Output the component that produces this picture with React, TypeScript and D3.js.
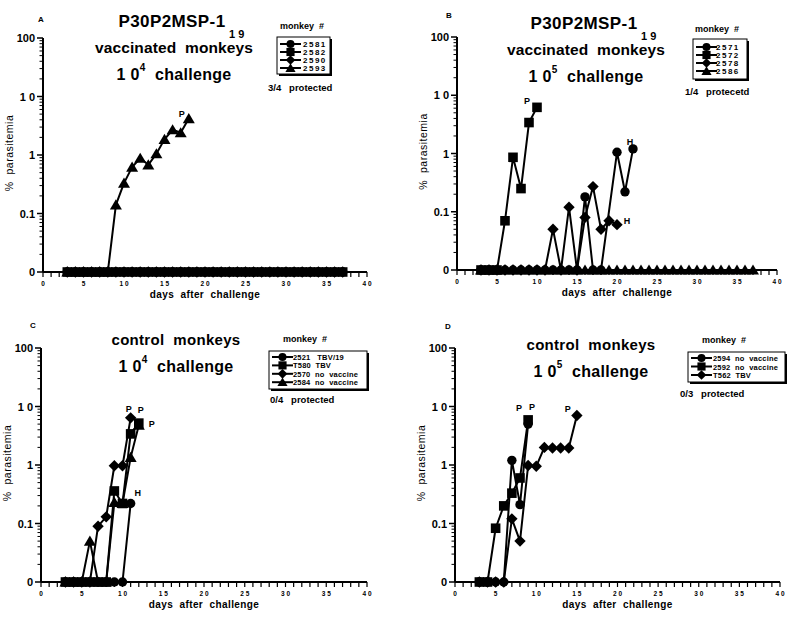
import React from 'react';
import * as d3 from 'd3';

type Pt = [number, number];

// ---------- Panel A: P30P2MSP-1 19 vaccinated, 10^4 challenge ----------
const a2581: Pt[] = [[3,0],[4,0],[5,0],[6,0],[7,0],[8,0],[9,0],[10,0],[11,0],[12,0],[13,0],[14,0],[15,0],[16,0],[17,0],[18,0],[19,0],[20,0],[21,0],[22,0],[23,0],[24,0],[25,0],[26,0],[27,0],[28,0],[29,0],[30,0],[31,0],[32,0],[33,0],[34,0],[35,0],[36,0],[37,0]];
const a2582: Pt[] = [[3,0],[4,0],[5,0],[6,0],[7,0],[8,0],[9,0],[10,0],[11,0],[12,0],[13,0],[14,0],[15,0],[16,0],[17,0],[18,0],[19,0],[20,0],[21,0],[22,0],[23,0],[24,0],[25,0],[26,0],[27,0],[28,0],[29,0],[30,0],[31,0],[32,0],[33,0],[34,0],[35,0],[36,0],[37,0]];
const a2590: Pt[] = [[3,0],[4,0],[5,0],[6,0],[7,0],[8,0],[9,0],[10,0],[11,0],[12,0],[13,0],[14,0],[15,0],[16,0],[17,0],[18,0],[19,0],[20,0],[21,0],[22,0],[23,0],[24,0],[25,0],[26,0],[27,0],[28,0],[29,0],[30,0],[31,0],[32,0],[33,0],[34,0],[35,0],[36,0],[37,0]];
const a2593: Pt[] = [[3,0],[4,0],[5,0],[6,0],[7,0],[8,0],[9,0.14],[10,0.33],[11,0.62],[12,0.88],[13,0.68],[14,1.05],[15,1.85],[16,2.7],[17,2.4],[18,4.2]];

// ---------- Panel B: P30P2MSP-1 19 vaccinated, 10^5 challenge ----------
const b2571: Pt[] = [[3,0],[4,0],[5,0],[6,0],[7,0],[8,0],[9,0],[10,0],[11,0],[12,0],[13,0],[14,0],[15,0],[16,0.18],[17,0],[18,0],[20,1.05],[21,0.22],[22,1.2]];
const b2572: Pt[] = [[3,0],[4,0],[5,0],[6,0.07],[7,0.86],[8,0.25],[9,3.4],[10,6.2]];
const b2578: Pt[] = [[3,0],[4,0],[5,0],[6,0],[7,0],[8,0],[9,0],[10,0],[11,0],[12,0.05],[13,0],[14,0.12],[15,0],[16,0.08],[17,0.27],[18,0.05],[19,0.07],[20,0.06]];
const b2586: Pt[] = [[3,0],[4,0],[5,0],[6,0],[7,0],[8,0],[9,0],[10,0],[11,0],[12,0],[13,0],[14,0],[15,0],[16,0],[17,0],[18,0],[19,0],[20,0],[21,0],[22,0],[23,0],[24,0],[25,0],[26,0],[27,0],[28,0],[29,0],[30,0],[31,0],[32,0],[33,0],[34,0],[35,0],[36,0],[37,0]];

// ---------- Panel C: control monkeys, 10^4 challenge ----------
const c2521: Pt[] = [[3,0],[4,0],[5,0],[6,0],[7,0],[8,0],[9,0],[10,0],[11,0.22]];
const cT580: Pt[] = [[3,0],[4,0],[5,0],[6,0],[7,0],[8,0],[9,0.36],[10,0.22],[11,3.4],[12,5.2]];
const c2570: Pt[] = [[3,0],[4,0],[5,0],[6,0],[7,0.09],[8,0.13],[9,0.97],[10,0.97],[11,6.4]];
const c2584: Pt[] = [[3,0],[4,0],[5,0],[6,0.05],[7,0],[8,0],[9,0.23],[10,0.22],[11,1.35],[12,4.8]];

// ---------- Panel D: control monkeys, 10^5 challenge ----------
const d2594: Pt[] = [[3,0],[4,0],[5,0],[6,0],[7,1.2],[8,0.21],[9,5.0]];
const d2592: Pt[] = [[3,0],[4,0],[5,0.083],[6,0.2],[7,0.33],[8,0.6],[9,5.9]];
const dT562: Pt[] = [[3,0],[4,0],[5,0],[6,0],[7,0.12],[8,0.05],[9,0.98],[10,0.95],[11,2.0],[12,1.95],[13,1.95],[14,1.95],[15,7.0]];

const yTickValues = [0.01, 0.1, 1, 10, 100];
const yTickLabels = ['0', '0.1', '1', '1 0', '100'];
const xTickValues = [0, 5, 10, 15, 20, 25, 30, 35, 40];

type Shape = 'circle' | 'square' | 'diamond' | 'triangle';
interface Series { name: string; desc: string; shape: Shape; data: Pt[] }
interface Note { text: string; day: number; value: number; dx: number; dy: number }
interface PanelCfg {
  letter: string; lx: number; ly: number;
  x0: number; x1: number; yTop: number; yBot: number;
  series: Series[]; notes: Note[];
  vaccine: boolean; exp: string; titleX: number; titleY: number;
  legX: number; legY: number; legW: number; legH: number; legRow: number; legFirst: number;
  legTextX: number; legSpacing: number; legFont: number;
  monkeyX: number; monkeyY: number; protText: string; protX: number; protY: number;
}

const FONT = "'Liberation Sans', Arial, Helvetica, sans-serif";

function markerPath(shape: Shape): string {
  switch (shape) {
    case 'circle': return 'M4.7,0A4.7,4.7,0,1,1,-4.7,0A4.7,4.7,0,1,1,4.7,0Z';
    case 'square': return 'M-4.8,-4.8L4.8,-4.8L4.8,4.8L-4.8,4.8Z';
    case 'diamond': return 'M0,-5.7L5.7,0L0,5.7L-5.7,0Z';
    default: return 'M0,-5.6L6,4.6L-6,4.6Z';
  }
}

const spaced = (s: string) => s.split('').join(' ');

const Panel: React.FC<{ c: PanelCfg }> = ({ c }) => {
  const x = d3.scaleLinear().domain([0, 40]).range([c.x0, c.x1]);
  const y = d3.scaleLog().domain([0.01, 100]).range([c.yBot, c.yTop]);
  const yv = (v: number) => y(v <= 0 ? 0.01 : v);
  const line = d3.line<Pt>().x(d => x(d[0])).y(d => yv(d[1]));
  const minor: number[] = [];
  [0.01, 0.1, 1, 10].forEach(b => { for (let k = 2; k <= 9; k++) minor.push(b * k); });
  const days = d3.range(0, 41);
  const cx = (c.x0 + c.x1) / 2;
  return (
    <g fontFamily={FONT} fill="#000">
      <text x={c.lx} y={c.ly} fontSize={8} fontWeight="bold">{c.letter}</text>
      {/* title */}
      {c.vaccine ? (
        <g fontWeight="bold">
          <text x={c.titleX} y={c.titleY} fontSize={17} letterSpacing={0.4} textAnchor="middle">P30P2MSP-1</text>
          <text x={c.titleX + 57} y={c.titleY + 11} fontSize={11} letterSpacing={0}>1 9</text>
          <text x={c.titleX + 2} y={c.titleY + 26} fontSize={15.5} letterSpacing={0.1} textAnchor="middle" style={{ whiteSpace: 'pre' }}>{'vaccinated  monkeys'}</text>
          <text x={c.titleX + 2} y={c.titleY + 53} fontSize={16} letterSpacing={0.3} textAnchor="middle" style={{ whiteSpace: 'pre' }}>
            <tspan>{'1 0'}</tspan><tspan fontSize={10} dy={-9}>{c.exp}</tspan><tspan dy={9}>{'  challenge'}</tspan>
          </text>
        </g>
      ) : (
        <g fontWeight="bold">
          <text x={c.titleX} y={c.titleY} fontSize={15} letterSpacing={0.3} textAnchor="middle" style={{ whiteSpace: 'pre' }}>{'control  monkeys'}</text>
          <text x={c.titleX} y={c.titleY + 27} fontSize={16} letterSpacing={0.3} textAnchor="middle" style={{ whiteSpace: 'pre' }}>
            <tspan>{'1 0'}</tspan><tspan fontSize={10} dy={-9}>{c.exp}</tspan><tspan dy={9}>{'  challenge'}</tspan>
          </text>
        </g>
      )}
      {/* legend */}
      <text x={c.monkeyX} y={c.monkeyY} fontSize={9} fontWeight="bold" style={{ whiteSpace: 'pre' }}>{'monkey  #'}</text>
      <rect x={c.legX + 2} y={c.legY + 2} width={c.legW} height={c.legH} fill="#000" />
      <rect x={c.legX} y={c.legY} width={c.legW} height={c.legH} fill="#fff" stroke="#000" strokeWidth={1} />
      {c.series.map((s, i) => {
        const ly = c.legY + c.legFirst + i * c.legRow;
        return (
          <g key={s.name}>
            <line x1={c.legX + 3} x2={c.legX + 24} y1={ly} y2={ly} stroke="#000" strokeWidth={2} />
            <path d={markerPath(s.shape)} transform={`translate(${c.legX + 13.5},${ly}) scale(0.85)`} />
            <text x={c.legTextX} y={ly + 3} fontSize={c.legFont} fontWeight="bold" letterSpacing={c.legSpacing} style={{ whiteSpace: 'pre' }}>
              {s.desc ? `${s.name}${s.desc}` : s.name}
            </text>
          </g>
        );
      })}
      <text x={c.protX} y={c.protY} fontSize={9.5} fontWeight="bold" style={{ whiteSpace: 'pre' }}>{c.protText}</text>
      {/* axes */}
      <line x1={c.x0} x2={c.x0} y1={c.yTop} y2={c.yBot} stroke="#000" strokeWidth={2} />
      <line x1={c.x0} x2={c.x1} y1={c.yBot} y2={c.yBot} stroke="#000" strokeWidth={2} />
      {yTickValues.map(v => (
        <line key={'ym' + v} x1={c.x0 - 6} x2={c.x0} y1={y(v)} y2={y(v)} stroke="#000" strokeWidth={1.5} />
      ))}
      {minor.map(v => (
        <line key={'yn' + v} x1={c.x0 - 3.5} x2={c.x0} y1={y(v)} y2={y(v)} stroke="#000" strokeWidth={1} />
      ))}
      {yTickValues.map((v, i) => (
        <text key={'yl' + v} x={c.x0 - 8} y={y(v) + 4} fontSize={11} fontWeight="bold" textAnchor="end" style={{ whiteSpace: 'pre' }}>{yTickLabels[i]}</text>
      ))}
      {days.map(d => (
        <line key={'xt' + d} x1={x(d)} x2={x(d)} y1={c.yBot} y2={c.yBot + 5} stroke="#000" strokeWidth={1.2} />
      ))}
      {xTickValues.map(d => (
        <text key={'xl' + d} x={x(d)} y={c.yBot + 14} fontSize={6.5} fontWeight="bold" textAnchor="middle" style={{ whiteSpace: 'pre' }}>{spaced(String(d))}</text>
      ))}
      <text x={cx} y={c.yBot + 26} fontSize={10} fontWeight="bold" textAnchor="middle" letterSpacing={0.4} style={{ whiteSpace: 'pre' }}>{'days  after  challenge'}</text>
      <text transform={`translate(${c.x0 - 30},${(c.yTop + c.yBot) / 2 - 2}) rotate(-90)`} fontSize={10.5} textAnchor="middle" letterSpacing={0.5} style={{ whiteSpace: 'pre' }}>{'%  parasitemia'}</text>
      {/* series */}
      {c.series.map(s => (
        <g key={'s' + s.name}>
          <path d={line(s.data) || ''} fill="none" stroke="#000" strokeWidth={2} strokeLinejoin="round" />
          {s.data.map((p, j) => (
            <path key={j} d={markerPath(s.shape)} transform={`translate(${x(p[0])},${yv(p[1])})`} />
          ))}
        </g>
      ))}
      {c.notes.map((n, i) => (
        <text key={'n' + i} x={x(n.day) + n.dx} y={yv(n.value) + n.dy} fontSize={9} fontWeight="bold" textAnchor="middle">{n.text}</text>
      ))}
    </g>
  );
};

const panels: PanelCfg[] = [
  {
    letter: 'A', lx: 38, ly: 22, x0: 43, x1: 367, yTop: 38, yBot: 272,
    series: [
      { name: '2581', desc: '', shape: 'circle', data: a2581 },
      { name: '2582', desc: '', shape: 'square', data: a2582 },
      { name: '2590', desc: '', shape: 'diamond', data: a2590 },
      { name: '2593', desc: '', shape: 'triangle', data: a2593 },
    ],
    notes: [{ text: 'P', day: 18, value: 4.2, dx: -7, dy: -2 }],
    vaccine: true, exp: '4', titleX: 172, titleY: 27,
    legX: 277, legY: 37, legW: 53, legH: 37, legRow: 8, legFirst: 7, legTextX: 303, legSpacing: 1.5, legFont: 8,
    monkeyX: 280, monkeyY: 29, protText: '3/4   protected', protX: 268, protY: 91,
  },
  {
    letter: 'B', lx: 446, ly: 18, x0: 457, x1: 777, yTop: 37, yBot: 270,
    series: [
      { name: '2571', desc: '', shape: 'circle', data: b2571 },
      { name: '2572', desc: '', shape: 'square', data: b2572 },
      { name: '2578', desc: '', shape: 'diamond', data: b2578 },
      { name: '2586', desc: '', shape: 'triangle', data: b2586 },
    ],
    notes: [
      { text: 'P', day: 10, value: 6.2, dx: -10, dy: -3 },
      { text: 'H', day: 22, value: 1.2, dx: -3, dy: -4 },
      { text: 'H', day: 20, value: 0.06, dx: 10, dy: -1 },
    ],
    vaccine: true, exp: '5', titleX: 584, titleY: 29,
    legX: 693, legY: 39, legW: 54, legH: 40, legRow: 8, legFirst: 8, legTextX: 716, legSpacing: 1.5, legFont: 8,
    monkeyX: 695, monkeyY: 32, protText: '1/4   protecetd', protX: 685, protY: 95,
  },
  {
    letter: 'C', lx: 30, ly: 328, x0: 41, x1: 367, yTop: 348, yBot: 582,
    series: [
      { name: '2521', desc: '   TBV/19', shape: 'circle', data: c2521 },
      { name: 'T580', desc: '  TBV', shape: 'square', data: cT580 },
      { name: '2570', desc: '  no  vaccine', shape: 'diamond', data: c2570 },
      { name: '2584', desc: '  no  vaccine', shape: 'triangle', data: c2584 },
    ],
    notes: [
      { text: 'P', day: 11, value: 6.4, dx: -2, dy: -6 },
      { text: 'P', day: 12, value: 5.2, dx: 2, dy: -10 },
      { text: 'P', day: 12, value: 5.2, dx: 13, dy: 4 },
      { text: 'H', day: 11, value: 0.22, dx: 7, dy: -7 },
    ],
    vaccine: false, exp: '4', titleX: 176, titleY: 345,
    legX: 269, legY: 351, legW: 98, legH: 38, legRow: 8.4, legFirst: 6, legTextX: 293, legSpacing: 0.2, legFont: 7.5,
    monkeyX: 283, monkeyY: 342, protText: '0/4   protected', protX: 270, protY: 403,
  },
  {
    letter: 'D', lx: 445, ly: 329, x0: 455, x1: 780, yTop: 348, yBot: 582,
    series: [
      { name: '2594', desc: '  no  vaccine', shape: 'circle', data: d2594 },
      { name: '2592', desc: '  no  vaccine', shape: 'square', data: d2592 },
      { name: 'T562', desc: '  TBV', shape: 'diamond', data: dT562 },
    ],
    notes: [
      { text: 'P', day: 9, value: 5.9, dx: -9, dy: -9 },
      { text: 'P', day: 9, value: 5.9, dx: 4, dy: -10 },
      { text: 'P', day: 15, value: 7.0, dx: -9, dy: -4 },
    ],
    vaccine: false, exp: '5', titleX: 591, titleY: 350,
    legX: 688, legY: 352, legW: 97, legH: 30, legRow: 8.5, legFirst: 6, legTextX: 713, legSpacing: 0.2, legFont: 7.5,
    monkeyX: 702, monkeyY: 343, protText: '0/3   protected', protX: 680, protY: 397,
  },
];

export default function App() {
  return (
    <svg width={800} height={625} style={{ position: 'absolute', left: 0, top: 0, background: '#fff' }}>
      <rect width={800} height={625} fill="#fff" />
      {panels.map(p => <Panel key={p.letter} c={p} />)}
    </svg>
  );
}
